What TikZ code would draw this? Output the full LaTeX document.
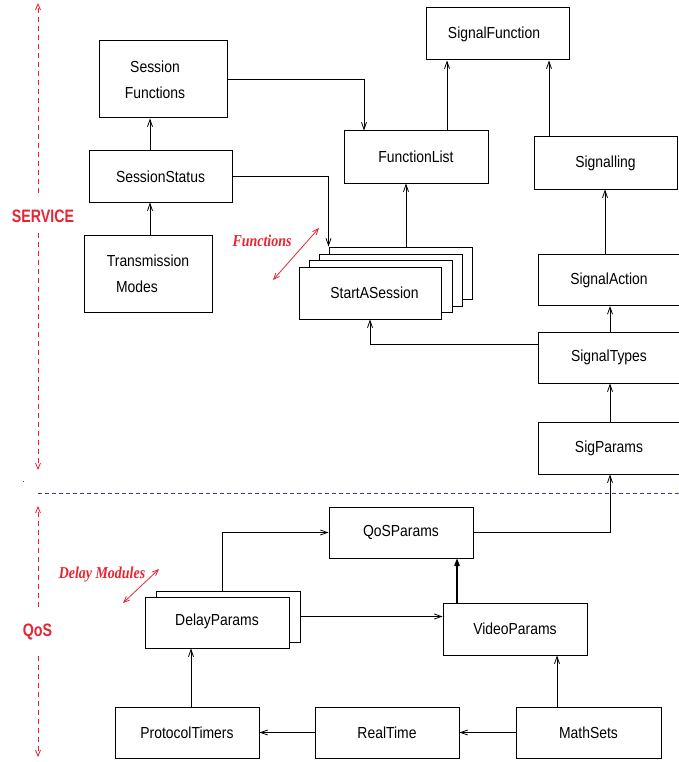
\documentclass[tikz,border=0pt]{standalone}
\usepackage{fontspec}
\setmainfont{Liberation Sans}[FakeStretch=0.87]
\newfontfamily\secfont{Liberation Sans}[FakeStretch=0.79]
\newfontfamily\notefont{Liberation Serif}[FakeStretch=0.84]
\usetikzlibrary{arrows.meta}
\definecolor{myred}{RGB}{232,36,48}
\definecolor{myblue}{RGB}{60,60,150}
\begin{document}
\begin{tikzpicture}[x=1pt,y=-1pt,
  box/.style={draw,fill=white,line width=1pt,inner sep=0pt,
    font=\fontsize{16}{26}\selectfont,align=center},
  arr/.style={-{Straight Barb[length=7pt,width=5pt]},line width=0.8pt},
  thickarr/.style={-{Straight Barb[length=5pt,width=4pt]},line width=1.8pt},
  reddash/.style={myred,line width=0.8pt,dash pattern=on 5pt off 4pt,
    -{Straight Barb[length=6pt,width=5pt]}},
  redarr/.style={myred,line width=0.8pt,
    {Straight Barb[length=6pt,width=5pt]}-{Straight Barb[length=6pt,width=5pt]}},
  seclabel/.style={myred,inner sep=0pt,anchor=base,
    font=\secfont\bfseries\fontsize{18}{20}\selectfont},
  notelabel/.style={myred,inner sep=0pt,anchor=base,
    font=\notefont\bfseries\itshape\fontsize{16.6}{20}\selectfont},
  blued/.style={myblue,line width=0.8pt,dash pattern=on 4pt off 3pt}]
\useasboundingbox (0,0) rectangle (679,762);
\fill[white] (0,0) rectangle (679,762);

% ---- SERVICE part ----
\node[box,minimum width=128pt,minimum height=77pt] (sf) at (163,79.5)
  {\hspace*{-16pt}Session\\\hspace*{-16pt}Functions};
\node[box,minimum width=143pt,minimum height=51pt] (ss) at (160.5,176.5) {SessionStatus};
\node[box,minimum width=128pt,minimum height=77pt] (tm) at (148,273.5)
  {Transmission\\\hspace*{-22pt}Modes};
\node[box,minimum width=144pt,minimum height=52pt] (fl) at (416,157) {FunctionList};
\node[box,minimum width=143pt,minimum height=52pt] (sfn) at (497.5,34) {\hspace*{-7pt}SignalFunction};
\node[box,minimum width=143pt,minimum height=52pt] (sig) at (605.5,163) {Signalling};
\node[box,minimum width=142pt,minimum height=51pt] (sa) at (609,280) {SignalAction};
\node[box,minimum width=142pt,minimum height=51pt] (st) at (609,357.5) {SignalTypes};
\node[box,minimum width=142pt,minimum height=52pt] (sp) at (609,448) {SigParams};

\node[box,minimum width=143pt,minimum height=52pt] (s4) at (400.5,273) {};
\node[box,minimum width=143pt,minimum height=52pt] (s3) at (390.5,280) {};
\node[box,minimum width=143pt,minimum height=52pt] (s2) at (380.5,286) {};
\node[box,minimum width=142pt,minimum height=52pt] (ses) at (370,293) {\hspace*{9pt}StartASession};

% ---- QoS part ----
\node[box,minimum width=144pt,minimum height=51pt] (qos) at (401,532.5) {QoSParams};
\node[box,minimum width=144pt,minimum height=51pt] (dp2) at (228,616.5) {};
\node[box,minimum width=144pt,minimum height=51pt] (dp) at (217,622.5) {\raisebox{5.5pt}{DelayParams}};
\node[box,minimum width=144pt,minimum height=52pt] (vp) at (515,629) {VideoParams};
\node[box,minimum width=144pt,minimum height=51pt] (pt) at (187,732.5) {ProtocolTimers};
\node[box,minimum width=144pt,minimum height=51pt] (rt) at (387,732.5) {RealTime};
\node[box,minimum width=145pt,minimum height=51pt] (ms) at (588.5,732.5) {MathSets};

% ---- connectors ----
\draw[arr] ([xshift=-10.5pt]ss.north) -- ([xshift=-13pt]sf.south);
\draw[arr] ([xshift=2pt]tm.north) -- ([xshift=-10.5pt]ss.south);
\draw[arr] (ss.east) -| (s4.north west);
\draw[arr] (sf.east) -| ([xshift=-52pt]fl.north);
\draw[arr] ([xshift=5.5pt]s4.north) -- ([xshift=-10pt]fl.south);
\draw[arr] ([xshift=31pt]fl.north) -- ([xshift=-50.5pt]sfn.south);
\draw[arr] ([xshift=-56.5pt]sig.north) -- ([xshift=51.5pt]sfn.south);
\draw[arr] ([xshift=-4pt]sa.north) -- ([xshift=-0.5pt]sig.south);
\draw[arr] ([xshift=1pt]st.north) -- ([xshift=1pt]sa.south);
\draw[arr] ([yshift=13.5pt]st.west) -| (ses.south);
\draw[arr] ([xshift=1pt]sp.north) -- ([xshift=1pt]st.south);
\draw[arr] (qos.east) -| ([xshift=1pt]sp.south);
\draw[arr] ([xshift=-6pt]dp2.north) |- (qos.west);
\draw[arr] (dp2.east) -- (dp2.east -| vp.west);
\draw[thickarr] ([xshift=-58pt]vp.north) -- ([xshift=56pt]qos.south);
\draw[arr] ([xshift=-31.5pt]ms.north) -- ([xshift=42pt]vp.south);
\draw[arr] (ms.west) -- (rt.east);
\draw[arr] (rt.west) -- (pt.east);
\draw[arr] ([xshift=4pt]pt.north) -- ([xshift=-26pt]dp.south);

% ---- section markers ----
\node[seclabel] (svc) at (43,222.7) {SERVICE};
\coordinate (svtop) at (38,3);
\coordinate (svgapT) at (38,193);
\coordinate (svgapB) at (38,233);
\coordinate (svbot) at (38,470);
\draw[reddash] (svgapT) -- (svtop);
\draw[reddash] (svgapB) -- (svbot);

\node[seclabel] (qosl) at (37.5,636) {QoS};
\coordinate (qtop) at (38,506);
\coordinate (qgapT) at (38,607);
\coordinate (qgapB) at (38,656);
\coordinate (qbot) at (38,757);
\draw[reddash] (qgapT) -- (qtop);
\draw[reddash] (qgapB) -- (qbot);

\coordinate (blL) at (38,493);
\coordinate (blR) at (679,493);
\draw[blued] (blL) -- (blR);
\fill[myblue] (22.5,480.5) rectangle (23.5,481.5);

% ---- notes ----
\node[notelabel] (fn) at (262,246) {Functions};
\coordinate (fnA) at (273,280);
\coordinate (fnB) at (319,228);
\draw[redarr] (fnA) -- (fnB);
\node[notelabel] (dm) at (102,578) {Delay Modules};
\coordinate (dmA) at (123,603);
\coordinate (dmB) at (159,569);
\draw[redarr] (dmA) -- (dmB);
\end{tikzpicture}
\end{document}
